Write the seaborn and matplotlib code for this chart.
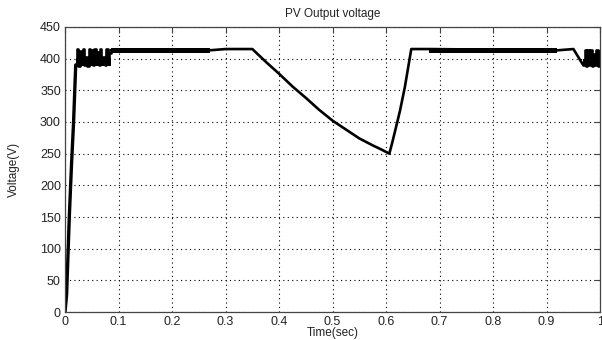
import numpy as np
import pandas as pd
import matplotlib
matplotlib.use("Agg")
import matplotlib.pyplot as plt
import seaborn as sns

# start-up ramp
ramp_t = [0.0, 0.003, 0.008, 0.012, 0.016, 0.020]
ramp_v = [0, 28, 150, 230, 300, 390]

# start-up switching pulses (steps)
osc1_t = [0.020, 0.023, 0.025, 0.028, 0.030, 0.033, 0.036, 0.038, 0.041, 0.044, 0.046, 0.049,
          0.052, 0.055, 0.057, 0.060, 0.063, 0.066, 0.068, 0.071, 0.074, 0.077, 0.080, 0.083, 0.085]
osc1_v = [390, 415, 389, 412, 392, 415, 390, 402, 389, 415, 392, 413,
          390, 415, 391, 410, 390, 415, 392, 403, 390, 415, 392, 408, 413]

# steady operation, irradiance drop and recovery
main_t = [0.085, 0.27, 0.30, 0.35, 0.375, 0.40, 0.425, 0.45, 0.475, 0.50, 0.525, 0.55,
          0.575, 0.59, 0.606, 0.611, 0.618, 0.626, 0.635, 0.641, 0.647, 0.68, 0.92, 0.95, 0.968]
main_v = [413, 413, 415, 415, 395, 376, 356, 338, 319, 302, 288, 274,
          263, 257, 250, 266, 290, 318, 355, 385, 415, 415, 413, 415, 390]

# ripple bands around the MPP
band_t1 = [0.085, 0.27]
band_t2 = [0.68, 0.92]
band_lo = [409, 409]
band_hi = [416, 416]

# final switching pulses
osc2_t = [0.968, 0.971, 0.973, 0.976, 0.979, 0.981, 0.984, 0.987, 0.989, 0.992, 0.995, 0.998, 1.0]
osc2_v = [390, 414, 388, 413, 390, 414, 389, 407, 390, 414, 389, 412, 390]

sns.set_style("white")
plt.rcParams["font.family"] = ["Liberation Sans", "DejaVu Sans"]

fig = plt.figure(figsize=(6.02, 3.40), dpi=100)
ax = fig.add_axes([0.108, 0.082, 0.889, 0.839])

lw = 1.9
ramp = pd.DataFrame({"t": ramp_t, "v": ramp_v})
main = pd.DataFrame({"t": main_t, "v": main_v})
sns.lineplot(data=ramp, x="t", y="v", sort=False, estimator=None, color="black", lw=2.4, ax=ax)
sns.lineplot(data=main, x="t", y="v", sort=False, estimator=None, color="black", lw=lw, ax=ax)
sns.lineplot(x=osc1_t, y=osc1_v, sort=False, estimator=None, color="black", lw=lw,
             drawstyle="steps-post", ax=ax)
sns.lineplot(x=osc2_t, y=osc2_v, sort=False, estimator=None, color="black", lw=lw,
             drawstyle="steps-post", ax=ax)
ax.fill_between(band_t1, band_lo, band_hi, color="black", lw=0)
ax.fill_between(band_t2, band_lo, band_hi, color="black", lw=0)
# dense fill of the start-up / end pulse blocks
ax.fill_between([0.020, 0.085], [388, 388], [401, 401], color="black", lw=0)
ax.fill_between([0.968, 1.0], [388, 388], [400, 400], color="black", lw=0)

ax.set_xlim(0, 1)
ax.set_ylim(0, 450)
ax.set_xticks(np.arange(0, 1.01, 0.1))
ax.set_xticklabels(["0", "0.1", "0.2", "0.3", "0.4", "0.5", "0.6", "0.7", "0.8", "0.9", "1"])
ax.set_yticks(np.arange(0, 451, 50))

ax.grid(True, color="black", linestyle=(0, (1, 3)), linewidth=0.8)
for s in ax.spines.values():
    s.set_visible(True)
    s.set_color("#444444")
    s.set_linewidth(0.9)
ax.tick_params(direction="in", length=4, width=0.8, color="#444444", labelsize=9,
               labelcolor="#222222", top=True, right=True, pad=3)

ax.set_title("PV Output voltage", fontsize=8.5, color="#222222", pad=7)
ax.set_xlabel("Time(sec)", fontsize=8.5, color="#222222", labelpad=-1)
ax.set_ylabel("Voltage(V)", fontsize=8.5, color="#222222", labelpad=14)

fig.savefig("out.png", dpi=100)
